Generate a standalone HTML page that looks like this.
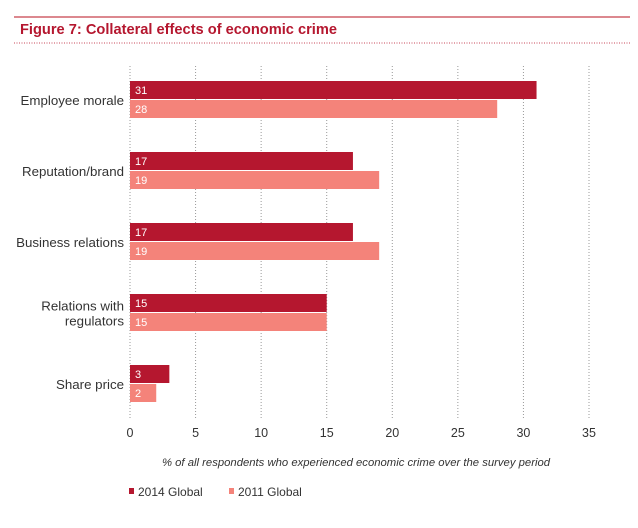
<!DOCTYPE html>
<html><head><meta charset="utf-8"><style>
body{margin:0;background:#fff;font-family:"Liberation Sans",sans-serif;}
svg text{font-family:"Liberation Sans",sans-serif;}
</style></head><body>
<svg width="638" height="523" viewBox="0 0 638 523">
<line x1="14" y1="17" x2="630" y2="17" stroke="#d0606a" stroke-width="1.5"/>
<text x="20" y="34" font-size="15" font-weight="bold" fill="#b5172f" textLength="317" lengthAdjust="spacingAndGlyphs">Figure 7: Collateral effects of economic crime</text>
<line x1="14" y1="43" x2="630" y2="43" stroke="#c8485a" stroke-width="1" stroke-dasharray="1,1.5"/>
<g id="grid"></g><g id="bars"></g>
<text x="356" y="466" font-size="11.3" font-style="italic" fill="#333" text-anchor="middle">% of all respondents who experienced economic crime over the survey period</text>
<rect x="129" y="488" width="5" height="6" fill="#b5172f"/>
<text x="138" y="496" font-size="12" fill="#333">2014 Global</text>
<rect x="229" y="488" width="5" height="6" fill="#f4837a"/>
<text x="238" y="496" font-size="12" fill="#333">2011 Global</text>
</svg>
<script>
const categories=[["Employee morale"],["Reputation/brand"],["Business relations"],["Relations with","regulators"],["Share price"]];
const values2014=[31,17,17,15,3];
const values2011=[28,19,19,15,2];
const ticks=[0,5,10,15,20,25,30,35];
const NS="http://www.w3.org/2000/svg";
const x=v=>130+v*(459/35);
const yTop=i=>81+i*71;
function mk(t,a,p){const e=document.createElementNS(NS,t);for(const k in a)e.setAttribute(k,a[k]);p.appendChild(e);return e;}
const grid=document.getElementById('grid'),bars=document.getElementById('bars');
ticks.forEach(t=>{
 const l=mk('line',{x1:x(t),x2:x(t),y1:66,y2:420,stroke:'#999','stroke-width':1,'stroke-dasharray':'1,2'},grid);
 
 
 const tx=mk('text',{x:x(t),y:437,'font-size':12.5,fill:'#333','text-anchor':'middle'},grid);
 tx.textContent=t;
 
 
});
categories.forEach((c,i)=>{
 const y0=yTop(i);
 [[values2014[i],'#b5172f',0,'2014'],[values2011[i],'#f4837a',19,'2011']].forEach(([v,col,off,s])=>{
  const r=mk('rect',{x:x(0),y:y0+off,width:x(v)-x(0),height:18,fill:col},bars);
  
  
  const t=mk('text',{x:x(0)+5,y:y0+off+13,'font-size':11,fill:'#fff'},bars);
  t.textContent=v;
  
  
 });
 const cy=y0+19;
 c.forEach((line,j)=>{
  const t=mk('text',{x:124,y:cy+5+(j-(c.length-1)/2)*15,'font-size':13.3,fill:'#333','text-anchor':'end'},bars);
  t.textContent=line;
  
  
 });
});
</script>
</body></html>
